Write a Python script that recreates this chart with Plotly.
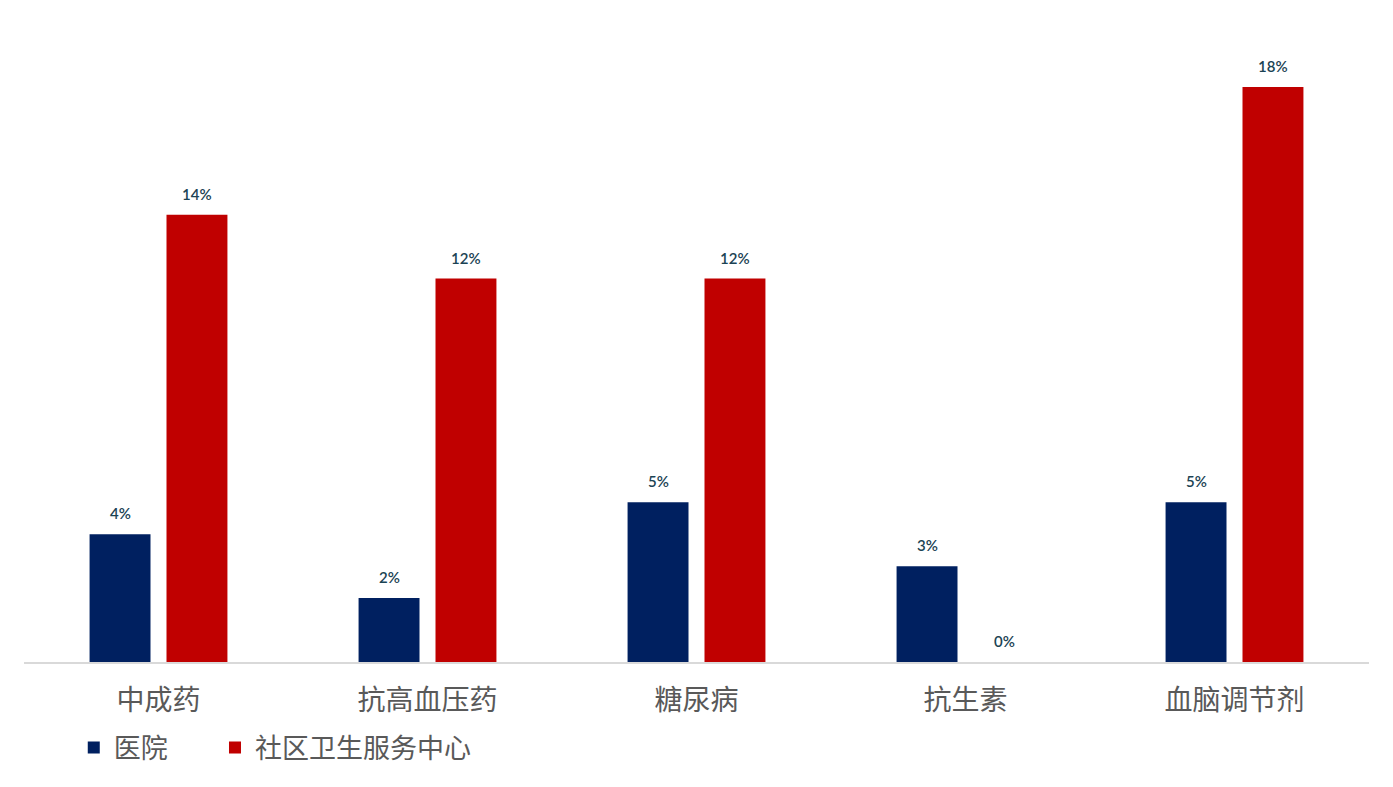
import plotly.graph_objects as go

categories = ["中成药", "抗高血压药", "糖尿病", "抗生素", "血脑调节剂"]
hospital = [4, 2, 5, 3, 5]
community = [14, 12, 12, 0, 18]
series_names = ["医院", "社区卫生服务中心"]
colors = ["#002060", "#C00000"]
legend_ids = ["legend", "legend2"]

fig = go.Figure()
for name, vals, col, lg in zip(series_names, [hospital, community], colors, legend_ids):
    fig.add_trace(go.Bar(x=categories, y=vals, name=name, marker_color=col,
                         marker_line_width=0, legend=lg))

label_font = dict(family="Lato, Open Sans, sans-serif", size=15, color="#1b4354",
                  weight=600)
for i, vals in enumerate([hospital, community]):
    shift = -38.5 if i == 0 else 38.5
    for c, v in zip(categories, vals):
        fig.add_annotation(x=c, y=v, text=f"{v}%", showarrow=False,
                           xref="x", yref="y", xshift=shift, yshift=10,
                           yanchor="bottom", font=label_font)

leg_font = dict(family="Noto Sans CJK SC", size=27, color="#595959")
fig.update_layout(
    width=1393, height=787,
    margin=dict(l=24, r=24, t=39, b=125),
    plot_bgcolor="white", paper_bgcolor="white",
    barmode="group", bargap=0.428, bargroupgap=0.208,
    showlegend=True,
    legend=dict(orientation="h", x=0.037, y=-0.138, xanchor="left", yanchor="middle",
                font=leg_font, bgcolor="rgba(0,0,0,0)"),
    legend2=dict(orientation="h", x=0.142, y=-0.138, xanchor="left", yanchor="middle",
                 font=leg_font, bgcolor="rgba(0,0,0,0)"),
    font=dict(family="Noto Sans CJK SC", color="#595959"),
)
fig.update_xaxes(showline=True, linecolor="#d9d9d9", linewidth=2, ticks="",
                 tickfont=dict(family="Noto Sans CJK SC", size=28, color="#595959"),
                 ticklabelstandoff=12, showgrid=False)
fig.update_yaxes(range=[0, 19.5], visible=False, showgrid=False, zeroline=False)

fig.write_html("out.html", config={"displayModeBar": False},
               post_script="document.body.style.margin='0';")
